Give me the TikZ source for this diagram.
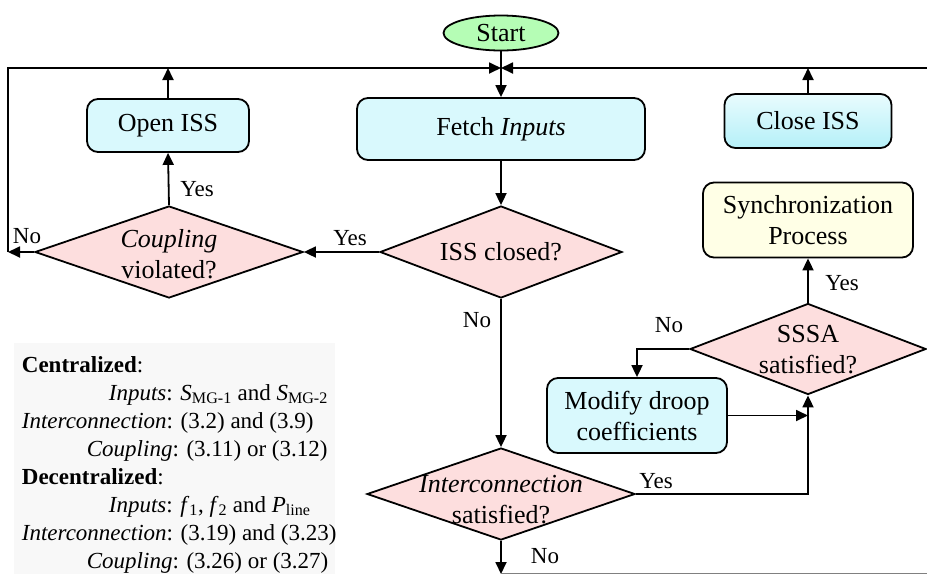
\documentclass[tikz,border=0pt]{standalone}
\usepackage{fontspec}
\setmainfont{Liberation Serif}
\usetikzlibrary{shapes.geometric,arrows.meta}

\definecolor{procfill}{HTML}{D9F9FD}
\definecolor{procfilldark}{HTML}{B5F0F8}
\definecolor{decfill}{HTML}{FDDEDE}
\definecolor{startfill}{HTML}{B5FDB5}
\definecolor{syncfill}{HTML}{FFFFE6}
\definecolor{notefill}{HTML}{F8F8F8}

\tikzset{
  mainfont/.style={font=\fontsize{26}{31}\selectfont},
  lblfont/.style={font=\fontsize{23}{27}\selectfont},
  procbox/.style={draw, rounded corners=11pt, fill=procfill, mainfont,
    align=center, inner sep=0pt},
  decbox/.style={draw, diamond, fill=decfill, inner sep=0pt},
  dectext/.style={mainfont, align=center, inner sep=0pt},
  flow/.style={->},
  lbl/.style={lblfont, inner sep=0pt},
  noteline/.style={lblfont, anchor=base west, inner sep=0pt},
}

\begin{document}
\begin{tikzpicture}[x=1pt, y=-1pt, line width=1.8pt,
  >={Triangle[length=12pt,width=11pt]}]
\useasboundingbox (0,0) rectangle (927,574);

% legend panel
\fill[notefill] (14,343) rectangle (335,574);
\node[noteline] (n1) at (21,372) {\textbf{Centralized}:};
\node[noteline] (n2) at (108,400) {\textit{Inputs}: \textit{S}\textsubscript{MG-1} and \textit{S}\textsubscript{MG-2}};
\node[noteline] (n3) at (21,428) {\textit{Interconnection}: (3.2) and (3.9)};
\node[noteline] (n4) at (86,456) {\textit{Coupling}: (3.11) or (3.12)};
\node[noteline] (n5) at (21,484) {\textbf{Decentralized}:};
\node[noteline] (n6) at (108,512) {\textit{Inputs}: \textit{f}\textsubscript{1}, \textit{f}\textsubscript{2} and \textit{P}\textsubscript{line}};
\node[noteline] (n7) at (21,540) {\textit{Interconnection}: (3.19) and (3.23)};
\node[noteline] (n8) at (86,568) {\textit{Coupling}: (3.26) or (3.27)};

% terminal and process boxes
\node[draw, ellipse, fill=startfill, mainfont, minimum width=115pt,
  minimum height=35pt, inner sep=0pt] (start) at (501,33) {Start};
\node[procbox, minimum width=288pt, minimum height=62pt] (fetch) at (501,129) {Fetch \textit{Inputs}};
\node[procbox, minimum width=162pt, minimum height=53pt] (open) at (168,125.5) {Open ISS};
\node[procbox, minimum width=167pt, minimum height=54pt,
  top color=procfill!60!white, bottom color=procfilldark] (close) at (808,121) {Close ISS};
\node[procbox, fill=syncfill, minimum width=210pt, minimum height=75pt] (sync) at (808,220) {Synchronization\\Process};
\node[procbox, minimum width=180pt, minimum height=75pt] (modify) at (637,415.5) {Modify droop\\coefficients};

% decisions
\node[decbox, minimum width=268pt, minimum height=92pt] (coup) at (169,252) {};
\node[dectext] (couptxt) at (169,254) {\textit{Coupling}\\violated?};
\node[decbox, minimum width=242pt, minimum height=92pt] (iss) at (501,252) {};
\node[dectext] (isstxt) at (501,252) {ISS closed?};
\node[decbox, minimum width=236pt, minimum height=91pt] (sssa) at (808,349) {};
\node[dectext] (sssatxt) at (808,350) {SSSA\\satisfied?};
\node[decbox, minimum width=268pt, minimum height=92pt] (inter) at (501,494) {};
\node[dectext] (intertxt) at (501,500) {\textit{Interconnection}\\satisfied?};

% junction points of the loop-back bus
\coordinate (jn) at (501,68);
\coordinate (tl) at (8,68);
\coordinate (bl) at (8,252);
\coordinate (tr) at (927,68);
\coordinate (yesbend) at (808,494);
\coordinate (nobend) at (637,349);
\coordinate (modjoin) at (808,415.5);
\coordinate (endpt) at (501,574);
\coordinate (edge) at (927,573.5);

% connectors
\draw[flow] (start) -- (fetch);
\draw[flow] (bl) -- (tl) -- (jn);
\draw[flow] (tr) -- (jn);
\draw[flow] (open.north) -- (open.north |- jn);
\draw[flow] (close.north) -- (close.north |- jn);
\draw[flow] (coup.west) -- (bl);
\draw[flow] (coup.north) -- (open.south);
\draw[flow] (fetch.south) -- (iss.north);
\draw[flow] (iss.west) -- (coup.east);
\draw[flow] (iss.south) -- (inter.north);
\draw[flow] (inter.east) -- (yesbend) -- (sssa.south);
\draw[flow] (modify.east) -- (modjoin);
\draw[flow] (sssa.west) -- (nobend) -- (modify.north);
\draw[flow] (sssa.north) -- (sync.south);
\draw[flow] (inter.south) -- (endpt);
\draw[line width=0.8pt, gray] (endpt |- edge) -- (edge);

% branch labels
\node[lbl] (l1) at (27,236) {No};
\node[lbl] (l2) at (197,189) {Yes};
\node[lbl] (l3) at (350,238) {Yes};
\node[lbl] (l4) at (477,320) {No};
\node[lbl] (l5) at (656,481) {Yes};
\node[lbl] (l6) at (669,325) {No};
\node[lbl] (l7) at (842,283) {Yes};
\node[lbl] (l8) at (545,556) {No};
\end{tikzpicture}
\end{document}
